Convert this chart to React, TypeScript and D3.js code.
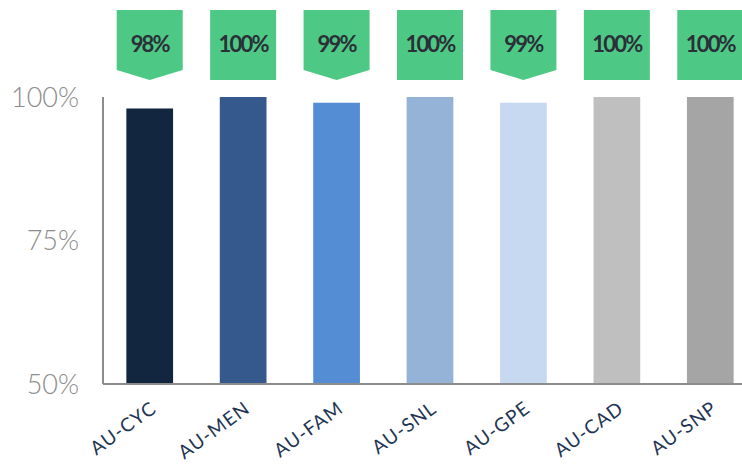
import React from "react";
import * as d3 from "d3";

// Chart values
const CATEGORIES = ["AU-CYC", "AU-MEN", "AU-FAM", "AU-SNL", "AU-GPE", "AU-CAD", "AU-SNP"];
const VALUES = [98, 100, 99, 100, 99, 100, 100];
const BAR_COLORS = ["#13263f", "#35598c", "#548dd4", "#95b3d7", "#c6d9f0", "#bfbfbf", "#a5a5a5"];
const Y_TICKS = [50, 75, 100];

const WIDTH = 742;
const HEIGHT = 465;
const GREEN = "#4dc985";

export default function App() {
  // plot area (right edge runs past the crop, like the original)
  const left = 103;
  const x = d3
    .scaleBand<string>()
    .domain(CATEGORIES)
    .range([left, 757])
    .paddingInner(0.5)
    .paddingOuter(0.25);

  const y = d3.scaleLinear().domain([50, 100]).range([384, 97]);

  const fmt = (v: number) => `${v}%`;

  // label box geometry
  const boxW = 66;
  const boxTop = 10;
  const boxBottom = 80;
  const notch = 10;

  return (
    <svg
      width={WIDTH}
      height={HEIGHT}
      style={{ position: "absolute", left: 0, top: 0, background: "#fff" }}
    >
      {/* y tick labels */}
      {Y_TICKS.map((t) => (
        <text
          key={t}
          x={79}
          y={y(t)}
          dy="0.36em"
          textAnchor="end"
          fontFamily="Lato, 'Open Sans', sans-serif"
          fontWeight={300}
          fontSize={27}
          fill="#8c8c8c"
        >
          {fmt(t)}
        </text>
      ))}

      {/* bars */}
      {CATEGORIES.map((c, i) => (
        <rect
          key={c}
          x={x(c)}
          y={y(VALUES[i])}
          width={x.bandwidth()}
          height={y(50) - y(VALUES[i])}
          fill={BAR_COLORS[i]}
        />
      ))}

      {/* axes */}
      <line x1={left} x2={left} y1={y(100)} y2={y(50)} stroke="#8c8c8c" strokeWidth={2} />
      <line x1={left} x2={WIDTH} y1={y(50)} y2={y(50)} stroke="#8c8c8c" strokeWidth={2} />

      {/* category labels */}
      {CATEGORIES.map((c) => {
        const cx = (x(c) ?? 0) + x.bandwidth() / 2;
        return (
          <text
            key={c}
            transform={`translate(${cx},${400}) rotate(-36)`}
            textAnchor="end"
            dy="0.72em"
            fontFamily="Lato, 'Open Sans', sans-serif"
            fontSize={19}
            letterSpacing={1}
            fill="#1f3553"
          >
            {c}
          </text>
        );
      })}

      {/* green value callouts */}
      {CATEGORIES.map((c, i) => {
        const cx = (x(c) ?? 0) + x.bandwidth() / 2;
        const l = cx - boxW / 2;
        const r = cx + boxW / 2;
        const pointed = VALUES[i] < 100;
        const path = pointed
          ? `M${l},${boxTop}H${r}V${boxBottom - notch}L${cx},${boxBottom}L${l},${boxBottom - notch}Z`
          : `M${l},${boxTop}H${r}V${boxBottom}H${l}Z`;
        return (
          <g key={c}>
            <path d={path} fill={GREEN} />
            <text
              x={cx}
              y={44}
              dy="0.36em"
              textAnchor="middle"
              fontFamily="Lato, 'Open Sans', sans-serif"
              fontWeight={700}
              fontSize={22}
              letterSpacing={-1.8}
              fill="#2b2f38"
            >
              {fmt(VALUES[i])}
            </text>
          </g>
        );
      })}
    </svg>
  );
}
